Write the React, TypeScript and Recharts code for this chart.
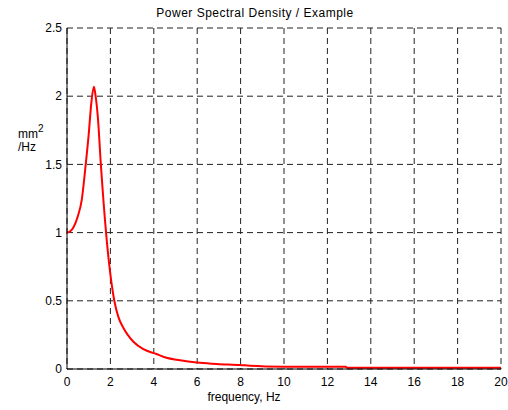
// PSD example chart — Recharts version of a MATLAB-style plot
import React from 'react';
import {
  LineChart,
  Line,
  XAxis,
  YAxis,
  CartesianGrid,
} from 'recharts';

/* ------------------------- data ----------------------------------------- */
const freqHz = [
  0, 0.15, 0.3, 0.5, 0.68, 0.85, 1.0, 1.12, 1.24, 1.32, 1.42, 1.56, 1.8,
  1.95, 2.06, 2.18, 2.37, 2.6, 2.8, 3.06, 3.52, 4.13, 4.44, 5.36, 6.13, 6.9,
  7.97, 8.43, 9.97, 12, 12.85, 12.9, 20,
];
const psd = [
  1.0, 1.01, 1.04, 1.12, 1.24, 1.48, 1.72, 1.95, 2.07, 2.0, 1.85, 1.5, 1.0,
  0.76, 0.62, 0.5, 0.38, 0.3, 0.25, 0.2, 0.145, 0.11, 0.09, 0.06, 0.046,
  0.037, 0.029, 0.024, 0.017, 0.016, 0.016, 0.01, 0.01,
];
const xTicks = [0, 2, 4, 6, 8, 10, 12, 14, 16, 18, 20];
const yTicks = [0, 0.5, 1, 1.5, 2, 2.5];

const TITLE = 'Power Spectral Density / Example';
const X_LABEL = 'frequency, Hz';

/* ------------------------- helpers -------------------------------------- */
const rows = freqHz.map((f, i) => ({ f, psd: psd[i] }));
const FONT = '"Liberation Sans", Arial, sans-serif';
const W = 508;
const H = 410;

export default function App() {
  const tickStyle = { fontSize: 12, fill: '#000', fontFamily: FONT };

  return (
    <div style={{ position: 'absolute', left: 0, top: 0, width: W, height: H, background: '#fff' }}>
      <LineChart
        width={W}
        height={H}
        data={rows}
        margin={{ top: 28, right: 7, bottom: 0, left: 0 }}
      >
        <CartesianGrid
          stroke="#222"
          strokeDasharray="6 4"
          horizontalValues={yTicks}
          verticalValues={xTicks}
        />
        <XAxis
          dataKey="f"
          type="number"
          domain={[0, 20]}
          ticks={xTicks}
          interval={0}
          height={41}
          tickLine={false}
          tickSize={0}
          tickMargin={8}
          tick={tickStyle}
          axisLine={{ stroke: '#000', strokeWidth: 1 }}
        />
        <XAxis
          xAxisId="top"
          dataKey="f"
          type="number"
          orientation="top"
          domain={[0, 20]}
          height={0}
          tick={false}
          tickLine={false}
          axisLine={{ stroke: '#000', strokeWidth: 1 }}
        />
        <YAxis
          type="number"
          domain={[0, 2.5]}
          ticks={yTicks}
          interval={0}
          width={67}
          tickLine={false}
          tickSize={0}
          tickMargin={5}
          tick={tickStyle}
          axisLine={{ stroke: '#000', strokeWidth: 1 }}
        />
        <YAxis
          yAxisId="right"
          type="number"
          orientation="right"
          domain={[0, 2.5]}
          width={0}
          tick={false}
          tickLine={false}
          axisLine={{ stroke: '#000', strokeWidth: 1 }}
        />
        <Line
          dataKey="psd"
          type="monotone"
          stroke="#ff0000"
          strokeWidth={2}
          dot={false}
          activeDot={false}
          isAnimationActive={false}
        />
      </LineChart>

      {/* titles / labels drawn as plain svg text on top */}
      <svg
        width={W}
        height={H}
        style={{ position: 'absolute', left: 0, top: 0, pointerEvents: 'none' }}
        fontFamily={FONT}
        fontSize={12}
      >
        <text x={255} y={17} textAnchor="middle" letterSpacing={0.5}>
          {TITLE}
        </text>
        <text x={18} y={138}>
          mm<tspan dy={-6} fontSize={10}>2</tspan>
        </text>
        <text x={18} y={151}>/Hz</text>
        <text x={244} y={401} textAnchor="middle">
          {X_LABEL}
        </text>
      </svg>
    </div>
  );
}
